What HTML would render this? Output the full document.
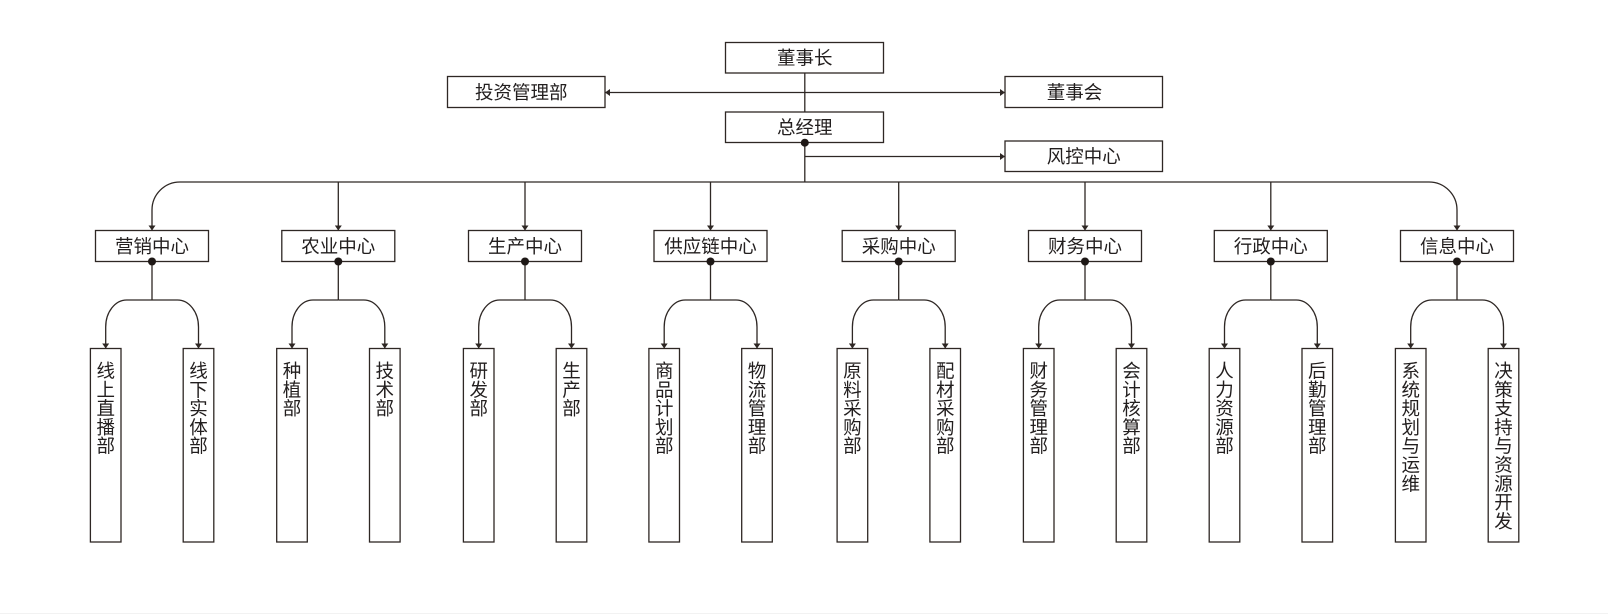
<!DOCTYPE html>
<html><head><meta charset="utf-8">
<style>
html,body{margin:0;padding:0;background:#fff;}
svg{display:block;}
text{font-family:"Liberation Sans","Noto Sans CJK SC","WenQuanYi Zen Hei",sans-serif;font-size:18.5px;fill:#221e1e;font-weight:400;}
.b{fill:#fff;stroke:#2e2724;stroke-width:1.3;}
.l{fill:none;stroke:#2e2724;stroke-width:1.3;}
.m{text-anchor:middle;}
</style></head>
<body>
<svg width="1608" height="615" viewBox="0 0 1608 615" xmlns="http://www.w3.org/2000/svg">
<defs>
<marker id="a" viewBox="0 0 5 7" refX="5" refY="3.5" markerWidth="5" markerHeight="7" markerUnits="userSpaceOnUse" orient="auto">
<path d="M0,0 L5,3.5 L0,7 z" fill="#2e2724"/>
</marker>
</defs>
<rect width="1608" height="615" fill="#fff"/>
<line x1="0" y1="613.5" x2="1608" y2="613.5" stroke="#f2f2f2" stroke-width="1"/>

<!-- top section -->
<line class="l" x1="804.8" y1="73" x2="804.8" y2="112"/>
<path class="l" d="M804.8,92.5 H605" marker-end="url(#a)"/>
<path class="l" d="M804.8,92.5 H1005" marker-end="url(#a)"/>
<line class="l" x1="804.8" y1="142.7" x2="804.8" y2="182"/>
<path class="l" d="M804.8,156.5 H1005" marker-end="url(#a)"/>

<rect class="b" x="725.5" y="42.5" width="158" height="30.5"/>
<text class="m" x="804.8" y="64.5">董事长</text>
<rect class="b" x="447.5" y="76.5" width="157.5" height="31"/>
<text x="475" y="99">投资管理部</text>
<rect class="b" x="1005" y="76.5" width="157.5" height="31"/>
<text x="1046.7" y="99">董事会</text>
<rect class="b" x="725.5" y="112" width="158" height="30.5"/>
<text class="m" x="804.8" y="134">总经理</text>
<circle cx="804.8" cy="142.7" r="4" fill="#1e1816"/>
<rect class="b" x="1005" y="141" width="157.5" height="30.5"/>
<text x="1046.7" y="163">风控中心</text>

<!-- bus -->
<path class="l" d="M180,182 A28 28 0 0 0 152,210 V230.5" marker-end="url(#a)"/>
<path class="l" d="M180,182 H1429"/>
<path class="l" d="M1429,182 A28 28 0 0 1 1457,210 V230.5" marker-end="url(#a)"/>
<path class="l" d="M338.3,182 V230.5" marker-end="url(#a)"/>
<path class="l" d="M525,182 V230.5" marker-end="url(#a)"/>
<path class="l" d="M710.5,182 V230.5" marker-end="url(#a)"/>
<path class="l" d="M898.7,182 V230.5" marker-end="url(#a)"/>
<path class="l" d="M1085,182 V230.5" marker-end="url(#a)"/>
<path class="l" d="M1270.8,182 V230.5" marker-end="url(#a)"/>

<!-- cluster 0: 营销中心 cx=152 -->
<rect class="b" x="95.5" y="230.5" width="113" height="31"/>
<text class="m" x="152" y="253">营销中心</text>
<line class="l" x1="152" y1="261.5" x2="152" y2="300"/>
<circle cx="152" cy="261.5" r="4" fill="#1e1816"/>
<path class="l" d="M152,300 H126.7 A21 27 0 0 0 105.7,327 V348.5" marker-end="url(#a)"/>
<path class="l" d="M152,300 H177.5 A21 27 0 0 1 198.5,327 V348.5" marker-end="url(#a)"/>
<rect class="b" x="90.4" y="348.5" width="30.6" height="193.5"/>
<rect class="b" x="183.2" y="348.5" width="30.6" height="193.5"/>
<text class="m" x="105.7" y="377.5">线</text><text class="m" x="105.7" y="396.3">上</text><text class="m" x="105.7" y="415.1">直</text><text class="m" x="105.7" y="433.9">播</text><text class="m" x="105.7" y="452.7">部</text>
<text class="m" x="198.5" y="377.5">线</text><text class="m" x="198.5" y="396.3">下</text><text class="m" x="198.5" y="415.1">实</text><text class="m" x="198.5" y="433.9">体</text><text class="m" x="198.5" y="452.7">部</text>

<!-- cluster 1: 农业中心 cx=338.3 -->
<rect class="b" x="281.8" y="230.5" width="113" height="31"/>
<text class="m" x="338.3" y="253">农业中心</text>
<line class="l" x1="338.3" y1="261.5" x2="338.3" y2="300"/>
<circle cx="338.3" cy="261.5" r="4" fill="#1e1816"/>
<path class="l" d="M338.3,300 H313 A21 27 0 0 0 292,327 V348.5" marker-end="url(#a)"/>
<path class="l" d="M338.3,300 H363.8 A21 27 0 0 1 384.8,327 V348.5" marker-end="url(#a)"/>
<rect class="b" x="276.7" y="348.5" width="30.6" height="193.5"/>
<rect class="b" x="369.5" y="348.5" width="30.6" height="193.5"/>
<text class="m" x="292" y="377.5">种</text><text class="m" x="292" y="396.3">植</text><text class="m" x="292" y="415.1">部</text>
<text class="m" x="384.8" y="377.5">技</text><text class="m" x="384.8" y="396.3">术</text><text class="m" x="384.8" y="415.1">部</text>

<!-- cluster 2: 生产中心 cx=525 -->
<rect class="b" x="468.5" y="230.5" width="113" height="31"/>
<text class="m" x="525" y="253">生产中心</text>
<line class="l" x1="525" y1="261.5" x2="525" y2="300"/>
<circle cx="525" cy="261.5" r="4" fill="#1e1816"/>
<path class="l" d="M525,300 H499.7 A21 27 0 0 0 478.7,327 V348.5" marker-end="url(#a)"/>
<path class="l" d="M525,300 H550.5 A21 27 0 0 1 571.5,327 V348.5" marker-end="url(#a)"/>
<rect class="b" x="463.4" y="348.5" width="30.6" height="193.5"/>
<rect class="b" x="556.2" y="348.5" width="30.6" height="193.5"/>
<text class="m" x="478.7" y="377.5">研</text><text class="m" x="478.7" y="396.3">发</text><text class="m" x="478.7" y="415.1">部</text>
<text class="m" x="571.5" y="377.5">生</text><text class="m" x="571.5" y="396.3">产</text><text class="m" x="571.5" y="415.1">部</text>

<!-- cluster 3: 供应链中心 cx=710.5 -->
<rect class="b" x="654" y="230.5" width="113" height="31"/>
<text class="m" x="710.5" y="253">供应链中心</text>
<line class="l" x1="710.5" y1="261.5" x2="710.5" y2="300"/>
<circle cx="710.5" cy="261.5" r="4" fill="#1e1816"/>
<path class="l" d="M710.5,300 H685.2 A21 27 0 0 0 664.2,327 V348.5" marker-end="url(#a)"/>
<path class="l" d="M710.5,300 H736 A21 27 0 0 1 757,327 V348.5" marker-end="url(#a)"/>
<rect class="b" x="648.9" y="348.5" width="30.6" height="193.5"/>
<rect class="b" x="741.7" y="348.5" width="30.6" height="193.5"/>
<text class="m" x="664.2" y="377.5">商</text><text class="m" x="664.2" y="396.3">品</text><text class="m" x="664.2" y="415.1">计</text><text class="m" x="664.2" y="433.9">划</text><text class="m" x="664.2" y="452.7">部</text>
<text class="m" x="757" y="377.5">物</text><text class="m" x="757" y="396.3">流</text><text class="m" x="757" y="415.1">管</text><text class="m" x="757" y="433.9">理</text><text class="m" x="757" y="452.7">部</text>

<!-- cluster 4: 采购中心 cx=898.7 -->
<rect class="b" x="842.2" y="230.5" width="113" height="31"/>
<text class="m" x="898.7" y="253">采购中心</text>
<line class="l" x1="898.7" y1="261.5" x2="898.7" y2="300"/>
<circle cx="898.7" cy="261.5" r="4" fill="#1e1816"/>
<path class="l" d="M898.7,300 H873.4 A21 27 0 0 0 852.4,327 V348.5" marker-end="url(#a)"/>
<path class="l" d="M898.7,300 H924.2 A21 27 0 0 1 945.2,327 V348.5" marker-end="url(#a)"/>
<rect class="b" x="837.1" y="348.5" width="30.6" height="193.5"/>
<rect class="b" x="929.9" y="348.5" width="30.6" height="193.5"/>
<text class="m" x="852.4" y="377.5">原</text><text class="m" x="852.4" y="396.3">料</text><text class="m" x="852.4" y="415.1">采</text><text class="m" x="852.4" y="433.9">购</text><text class="m" x="852.4" y="452.7">部</text>
<text class="m" x="945.2" y="377.5">配</text><text class="m" x="945.2" y="396.3">材</text><text class="m" x="945.2" y="415.1">采</text><text class="m" x="945.2" y="433.9">购</text><text class="m" x="945.2" y="452.7">部</text>

<!-- cluster 5: 财务中心 cx=1085 -->
<rect class="b" x="1028.5" y="230.5" width="113" height="31"/>
<text class="m" x="1085" y="253">财务中心</text>
<line class="l" x1="1085" y1="261.5" x2="1085" y2="300"/>
<circle cx="1085" cy="261.5" r="4" fill="#1e1816"/>
<path class="l" d="M1085,300 H1059.7 A21 27 0 0 0 1038.7,327 V348.5" marker-end="url(#a)"/>
<path class="l" d="M1085,300 H1110.5 A21 27 0 0 1 1131.5,327 V348.5" marker-end="url(#a)"/>
<rect class="b" x="1023.4" y="348.5" width="30.6" height="193.5"/>
<rect class="b" x="1116.2" y="348.5" width="30.6" height="193.5"/>
<text class="m" x="1038.7" y="377.5">财</text><text class="m" x="1038.7" y="396.3">务</text><text class="m" x="1038.7" y="415.1">管</text><text class="m" x="1038.7" y="433.9">理</text><text class="m" x="1038.7" y="452.7">部</text>
<text class="m" x="1131.5" y="377.5">会</text><text class="m" x="1131.5" y="396.3">计</text><text class="m" x="1131.5" y="415.1">核</text><text class="m" x="1131.5" y="433.9">算</text><text class="m" x="1131.5" y="452.7">部</text>

<!-- cluster 6: 行政中心 cx=1270.8 -->
<rect class="b" x="1214.3" y="230.5" width="113" height="31"/>
<text class="m" x="1270.8" y="253">行政中心</text>
<line class="l" x1="1270.8" y1="261.5" x2="1270.8" y2="300"/>
<circle cx="1270.8" cy="261.5" r="4" fill="#1e1816"/>
<path class="l" d="M1270.8,300 H1245.5 A21 27 0 0 0 1224.5,327 V348.5" marker-end="url(#a)"/>
<path class="l" d="M1270.8,300 H1296.3 A21 27 0 0 1 1317.3,327 V348.5" marker-end="url(#a)"/>
<rect class="b" x="1209.2" y="348.5" width="30.6" height="193.5"/>
<rect class="b" x="1302" y="348.5" width="30.6" height="193.5"/>
<text class="m" x="1224.5" y="377.5">人</text><text class="m" x="1224.5" y="396.3">力</text><text class="m" x="1224.5" y="415.1">资</text><text class="m" x="1224.5" y="433.9">源</text><text class="m" x="1224.5" y="452.7">部</text>
<text class="m" x="1317.3" y="377.5">后</text><text class="m" x="1317.3" y="396.3">勤</text><text class="m" x="1317.3" y="415.1">管</text><text class="m" x="1317.3" y="433.9">理</text><text class="m" x="1317.3" y="452.7">部</text>

<!-- cluster 7: 信息中心 cx=1457 -->
<rect class="b" x="1400.5" y="230.5" width="113" height="31"/>
<text class="m" x="1457" y="253">信息中心</text>
<line class="l" x1="1457" y1="261.5" x2="1457" y2="300"/>
<circle cx="1457" cy="261.5" r="4" fill="#1e1816"/>
<path class="l" d="M1457,300 H1431.7 A21 27 0 0 0 1410.7,327 V348.5" marker-end="url(#a)"/>
<path class="l" d="M1457,300 H1482.5 A21 27 0 0 1 1503.5,327 V348.5" marker-end="url(#a)"/>
<rect class="b" x="1395.4" y="348.5" width="30.6" height="193.5"/>
<rect class="b" x="1488.2" y="348.5" width="30.6" height="193.5"/>
<text class="m" x="1410.7" y="377.5">系</text><text class="m" x="1410.7" y="396.3">统</text><text class="m" x="1410.7" y="415.1">规</text><text class="m" x="1410.7" y="433.9">划</text><text class="m" x="1410.7" y="452.7">与</text><text class="m" x="1410.7" y="471.5">运</text><text class="m" x="1410.7" y="490.3">维</text>
<text class="m" x="1503.5" y="377.5">决</text><text class="m" x="1503.5" y="396.3">策</text><text class="m" x="1503.5" y="415.1">支</text><text class="m" x="1503.5" y="433.9">持</text><text class="m" x="1503.5" y="452.7">与</text><text class="m" x="1503.5" y="471.5">资</text><text class="m" x="1503.5" y="490.3">源</text><text class="m" x="1503.5" y="509.1">开</text><text class="m" x="1503.5" y="527.9">发</text>
</svg>
</body></html>
